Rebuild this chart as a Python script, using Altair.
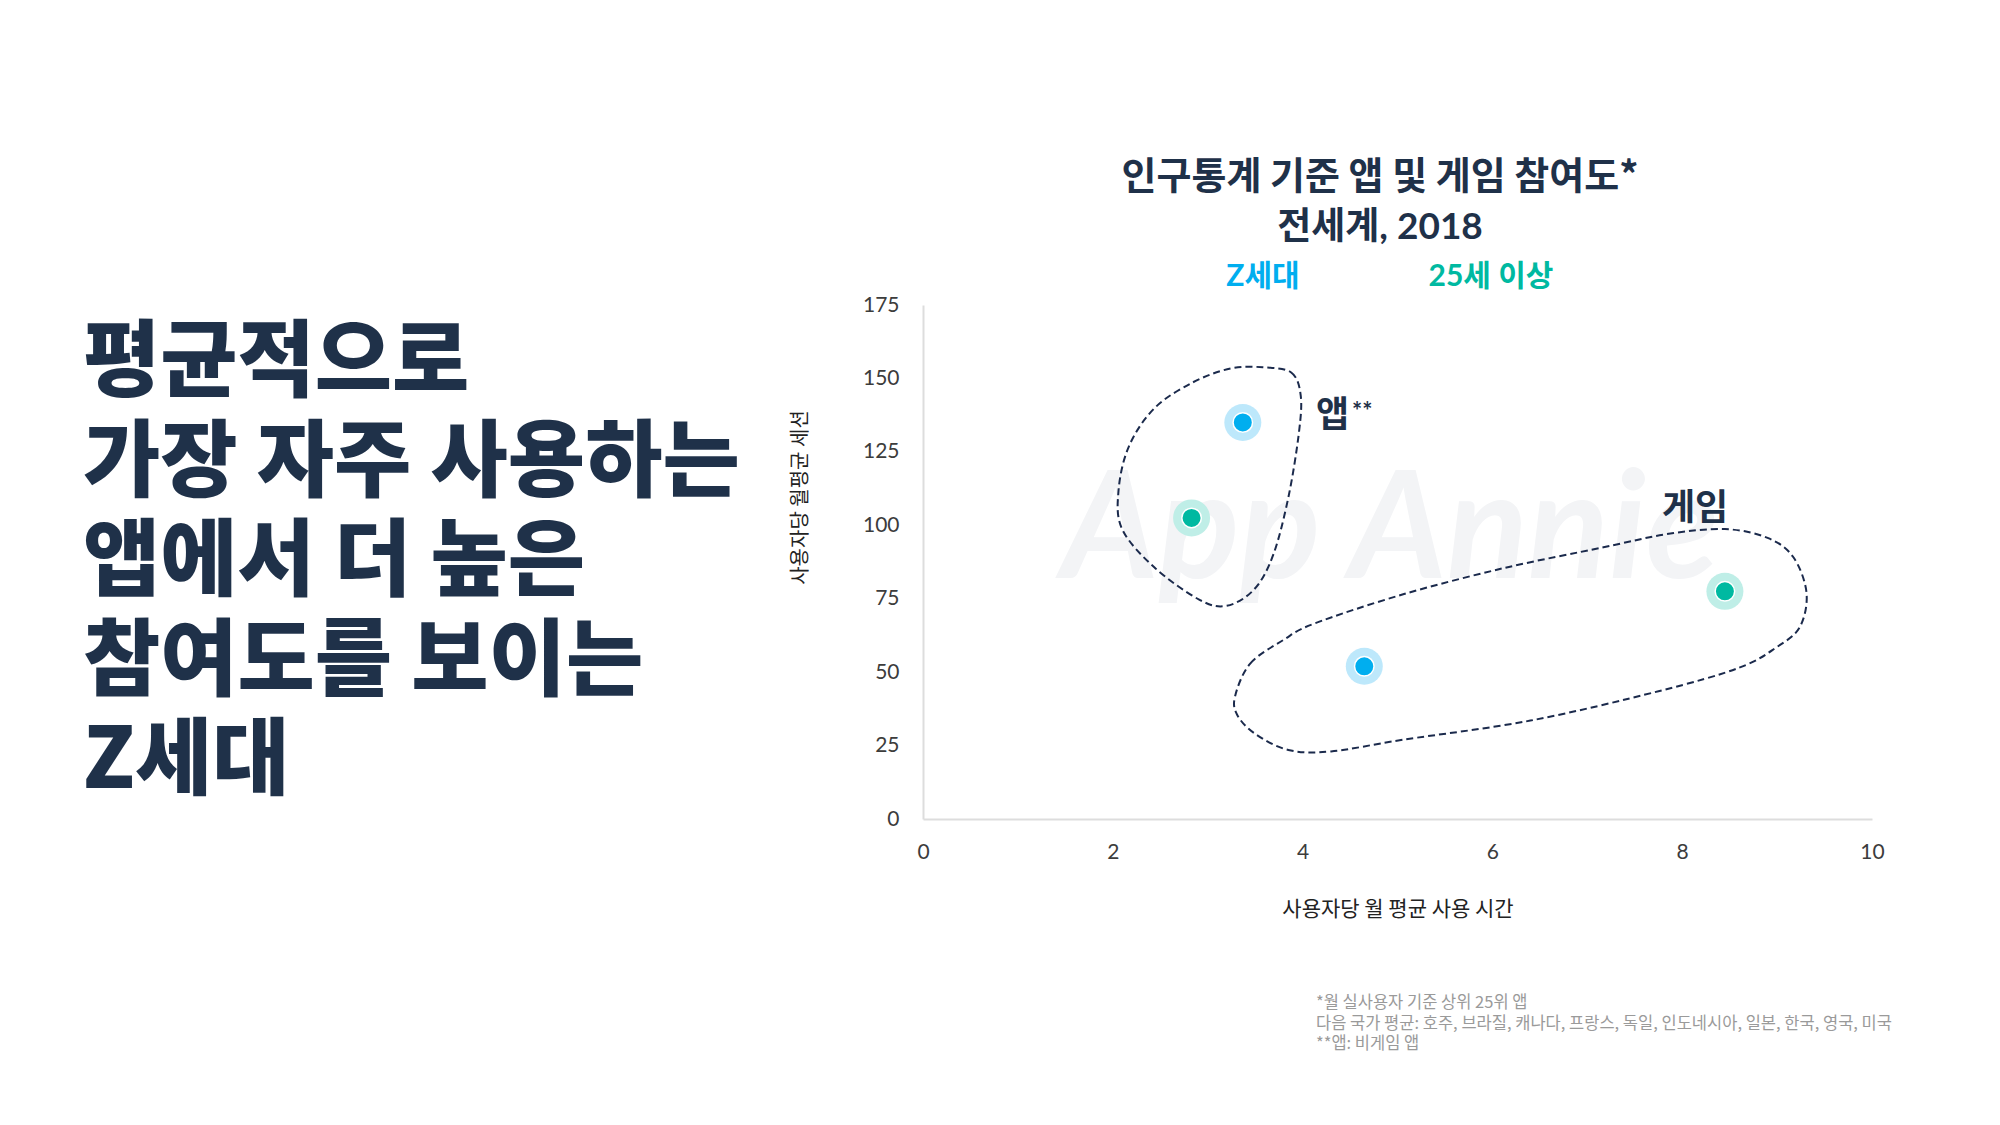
import altair as alt
import pandas as pd

# ---- data ----
groups = ["Z세대", "25세 이상", "Z세대", "25세 이상"]
segments = ["앱", "앱", "게임", "게임"]
hours = [3.37, 2.83, 4.65, 8.45]
sessions = [135.0, 102.5, 52.0, 77.5]

app_loop_x = [3.58, 3.88, 3.98, 3.96, 3.85, 3.69, 3.49, 3.20, 2.91, 2.44, 2.10, 2.06, 2.17, 2.44, 2.84, 3.24]
app_loop_y = [153.8, 152.0, 144.2, 131.2, 109.5, 89.9, 78.2, 72.6, 74.7, 85.6, 98.6, 111.7, 126.9, 139.9, 148.6, 153.4]

game_loop_x = [3.29, 3.45, 3.80, 4.12, 5.06, 6.13, 7.17, 7.84, 8.45, 8.90, 9.17, 9.31, 9.24, 9.00, 8.60, 7.75, 6.40, 5.06, 4.30, 3.85, 3.50, 3.31]
game_loop_y = [42.0, 53.0, 61.0, 66.5, 76.5, 85.5, 92.5, 97.0, 98.7, 95.7, 89.2, 77.0, 65.4, 58.6, 51.5, 43.5, 33.5, 27.0, 23.0, 23.5, 29.0, 35.5]

x_ticks = [0, 2, 4, 6, 8, 10]
y_ticks = [0, 25, 50, 75, 100, 125, 150, 175]

headline = ["평균적으로", "가장 자주 사용하는", "앱에서 더 높은", "참여도를 보이는", "Z세대"]
title_lines = ["인구통계 기준 앱 및 게임 참여도*", "전세계, 2018"]
legend_labels = ["Z세대", "25세 이상"]
footnotes = [
    "*월 실사용자 기준 상위 25위 앱",
    "다음 국가 평균: 호주, 브라질, 캐나다, 프랑스, 독일, 인도네시아, 일본, 한국, 영국, 미국",
    "**앱: 비게임 앱",
]
x_title = "사용자당 월 평균 사용 시간"
y_title = "사용자당 월평균 세션"

# ---- styling ----
NAVY = "#1f3149"
KR = "'Noto Sans CJK KR', sans-serif"
NUM = "Lato, 'Noto Sans CJK KR', sans-serif"
dot_colors = ["#00aeef", "#00b9a1"]
halo_colors = ["#bde8fb", "#bfeee7"]

points = pd.DataFrame({"group": groups, "segment": segments, "hours": hours, "sessions": sessions})
loops = pd.concat([
    pd.DataFrame({"shape": "app", "i": range(len(app_loop_x)), "hours": app_loop_x, "sessions": app_loop_y}),
    pd.DataFrame({"shape": "game", "i": range(len(game_loop_x)), "hours": game_loop_x, "sessions": game_loop_y}),
])

x_enc = alt.X("hours:Q",
              scale=alt.Scale(domain=[0, 10], nice=False),
              axis=alt.Axis(values=x_ticks, title=x_title, grid=False, ticks=False, tickSize=0,
                            labelPadding=22, labelFontSize=21, labelFont=NUM, labelColor="#3c3c3c",
                            labelFlush=False,
                            domainColor="#dddddd", domainWidth=2,
                            titleFont=KR, titleFontSize=21, titleFontWeight="normal", titleColor="#222222",
                            titleY=90, titleBaseline="middle"))
y_enc = alt.Y("sessions:Q",
              scale=alt.Scale(domain=[0, 175], nice=False),
              axis=alt.Axis(values=y_ticks, title=y_title, grid=False, ticks=False, tickSize=0,
                            labelPadding=24, labelFontSize=21, labelFont=NUM, labelColor="#3c3c3c",
                            labelFlush=False,
                            domainColor="#dddddd", domainWidth=2,
                            titleFont=KR, titleFontSize=20, titleFontWeight="normal", titleColor="#222222",
                            titleX=-123, titleY=192, titleAngle=270, titleAlign="center",
                            titleBaseline="middle"))


def txt(s, x, y, **kw):
    return alt.Chart(pd.DataFrame({"t": [s]})).mark_text(lineBreak="\n", **kw).encode(
        text="t:N", x=alt.value(x), y=alt.value(y))


watermark = txt("App Annie", 467, 228, font="Lato", fontSize=150, fontStyle="italic",
                fontWeight="bold", color="#f3f4f6", align="center", baseline="middle")

loop_layer = alt.Chart(loops).mark_line(
    interpolate="cardinal-closed", strokeDash=[7, 4], strokeWidth=2, color="#1b2a4c"
).encode(x=x_enc, y=y_enc, detail="shape:N", order="i:Q")

color_dom = legend_labels
halo = alt.Chart(points).mark_point(filled=True, shape="circle", size=1369, opacity=1).encode(
    x=x_enc, y=y_enc,
    color=alt.Color("group:N", scale=alt.Scale(domain=color_dom, range=halo_colors), legend=None))
dots = alt.Chart(points).mark_point(filled=True, shape="circle", size=380, opacity=1,
                                    stroke="white", strokeWidth=1.5).encode(
    x=x_enc, y=y_enc,
    fill=alt.Fill("group:N", scale=alt.Scale(domain=color_dom, range=dot_colors), legend=None))

texts = [
    txt("\n".join(headline), -840, 60, font=KR, fontSize=84, fontWeight=900, color=NAVY,
        align="left", baseline="middle", lineHeight=99.5),
    txt(title_lines[0], 457, -127, font=KR, fontSize=38, fontWeight="bold", color=NAVY,
        align="center", baseline="middle"),
    txt(title_lines[1], 457, -77, font=NUM, fontSize=37, fontWeight="bold", color=NAVY,
        align="center", baseline="middle"),
    txt(legend_labels[0], 340, -28, font=NUM, fontSize=30, fontWeight="bold", color=dot_colors[0],
        align="center", baseline="middle"),
    txt(legend_labels[1], 568, -28, font=NUM, fontSize=30, fontWeight="bold", color=dot_colors[1],
        align="center", baseline="middle"),
    txt("앱", 393, 111, font=KR, fontSize=36, fontWeight="bold", color=NAVY,
        align="left", baseline="middle"),
    txt("**", 429, 108, font=NUM, fontSize=24, fontWeight="bold", color=NAVY,
        align="left", baseline="middle"),
    txt("게임", 772, 204, font=KR, fontSize=36, fontWeight="bold", color=NAVY,
        align="center", baseline="middle"),
    txt("\n".join(footnotes), 393, 698, font=KR, fontSize=16.5, color="#9a9a9a",
        align="left", baseline="middle", lineHeight=20.5),
]

chart = alt.layer(watermark, loop_layer, halo, dots, *texts).properties(
    width=949, height=514,
    autosize=alt.AutoSizeParams(type="none"),
    padding={"left": 915, "top": 297, "right": 120, "bottom": 298},
    background="white",
).configure_view(stroke=None)

chart.save("out.html", embed_options={"renderer": "svg", "actions": False})
